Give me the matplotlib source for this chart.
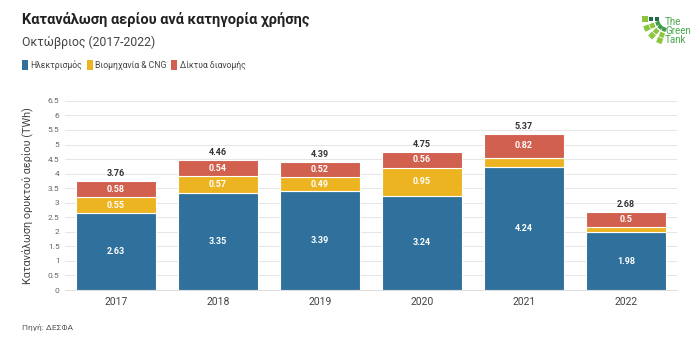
import matplotlib
matplotlib.use("Agg")
import matplotlib.pyplot as plt
from matplotlib.patches import Rectangle, Polygon
import numpy as np

plt.rcParams['font.family'] = ['Roboto', 'DejaVu Sans']

# ---------------------------------------------------------------- data ---- #
years = ['2017', '2018', '2019', '2020', '2021', '2022']
ilektrismos = [2.63, 3.35, 3.39, 3.24, 4.24, 1.98]
viomixania = [0.55, 0.57, 0.49, 0.95, 0.31, 0.20]
diktya = [0.58, 0.54, 0.52, 0.56, 0.82, 0.50]
totals = [3.76, 4.46, 4.39, 4.75, 5.37, 2.68]

series_names = ['Ηλεκτρισμός', 'Βιομηχανία & CNG', 'Δίκτυα διανομής']
colors = ['#2f719c', '#edb422', '#d2604f']

# -------------------------------------------------------------- figure ---- #
W, H = 700, 349
fig = plt.figure(figsize=(7, 3.49), dpi=100)
ax = fig.add_axes([0.093, 0.169, 0.874, 0.542])

x = np.arange(len(years))
w = 0.78
bottom = np.zeros(len(years))
for vals, c in zip([ilektrismos, viomixania, diktya], colors):
    ax.bar(x, vals, w, bottom=bottom, color=c, edgecolor='white', linewidth=0.8, zorder=3)
    for xi, v, b in zip(x, vals, bottom):
        if v >= 0.4:
            ax.text(xi, b + v / 2, '{:g}'.format(v), ha='center', va='center',
                    color='white', fontsize=6.5, fontweight='bold', zorder=4)
    bottom += np.array(vals)

for xi, t in zip(x, totals):
    ax.text(xi, t + 0.1, '{:g}'.format(t), ha='center', va='bottom',
            color='#333333', fontsize=6.5, fontweight='bold')

ax.set_xlim(-0.5, len(years) - 0.5)
ax.set_ylim(0, 6.5)
ax.set_yticks(np.arange(0, 6.51, 0.5))
ax.set_yticklabels(['{:g}'.format(v) for v in np.arange(0, 6.51, 0.5)])
ax.set_xticks(x)
ax.set_xticklabels(years)
ax.tick_params(axis='y', labelsize=6, colors='#666666', length=0, pad=4)
ax.tick_params(axis='x', labelsize=7.5, colors='#444444', length=0, pad=5)
ax.grid(axis='y', color='#e6e6e6', linewidth=0.7, zorder=0)
for s in ['top', 'right', 'left']:
    ax.spines[s].set_visible(False)
ax.spines['bottom'].set_color('#dddddd')
ax.spines['bottom'].set_linewidth(0.7)
ax.set_ylabel('Κατανάλωση ορυκτού αερίου (TWh)', fontsize=7.8, color='#444444', labelpad=10)

# -------------------------------------------------------------- texts ---- #
fig.text(0.031, 0.943, 'Κατανάλωση αερίου ανά κατηγορία χρήσης', fontsize=10.5,
         fontweight='bold', color='#222222', va='center')
fig.text(0.031, 0.878, 'Οκτώβριος (2017-2022)', fontsize=8.8, color='#444444', va='center')

lx = 0.031
for name, c in zip(series_names, colors):
    fig.patches.append(Rectangle((lx, 0.798), 0.0085, 0.030, transform=fig.transFigure,
                                 facecolor=c, edgecolor='none'))
    t = fig.text(lx + 0.012, 0.813, name, fontsize=6.2, color='#444444', va='center')
    fig.canvas.draw()
    bb = t.get_window_extent().transformed(fig.transFigure.inverted())
    lx = bb.x1 + 0.007

fig.text(0.031, 0.063, 'Πηγή: ΔΕΣΦΑ', fontsize=6, color='#555555', va='center')

# logo (fan of squares, in pixel coords)
def px(xp, yp):
    return (xp / W, 1 - yp / H)

cx0, cy0 = 668, 19
shades = ['#1f6b4a', '#3f9b48', '#8cc63f']
for i, ang in enumerate(np.deg2rad([180, 203, 226, 249])):
    for j, r in enumerate([11, 17, 23]):
        mx = cx0 + r * np.cos(ang)
        my = cy0 - r * np.sin(ang)
        s = 2.1 + j * 0.35
        ux, uy = np.cos(ang), -np.sin(ang)
        vx, vy = -uy, ux
        pts = [px(mx + (a * ux + b * vx) * s, my + (a * uy + b * vy) * s)
               for a, b in [(-1, -1), (1, -1), (1, 1), (-1, 1)]]
        col = shades[0] if (i == 0 and j < 2) else shades[1] if j == 0 else shades[2]
        fig.patches.append(Polygon(pts, closed=True, transform=fig.transFigure,
                                   facecolor=col, edgecolor='none'))
fig.text(665 / W, 1 - 31 / H, 'The\nGreen\nTank', fontsize=7.0, color='#4aa84a',
         va='center', ha='left', linespacing=0.85)

fig.savefig('out.png', dpi=100)
